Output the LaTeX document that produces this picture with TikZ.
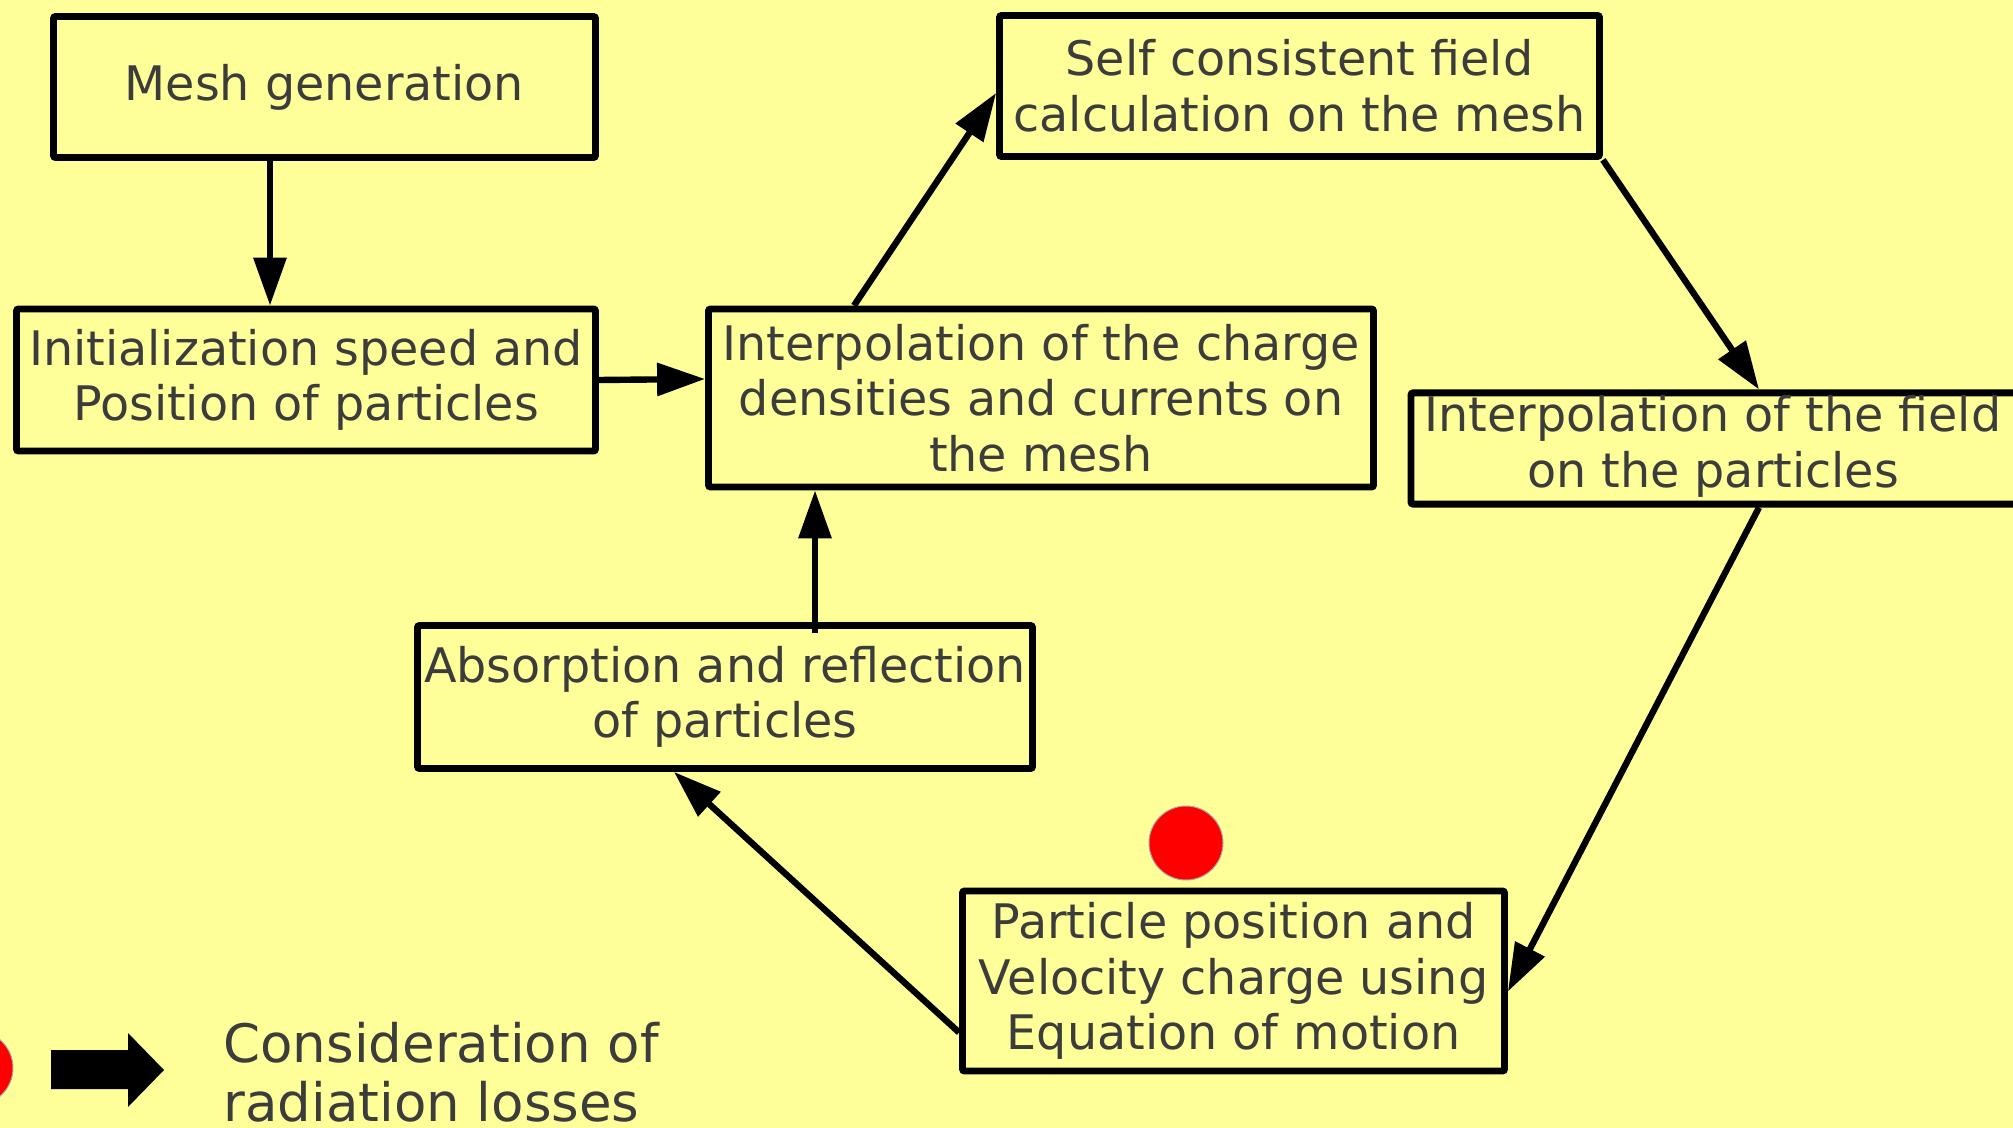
\documentclass[tikz,border=0pt]{standalone}
\usepackage{fontspec}
\setmainfont{DejaVu Sans}
\usetikzlibrary{arrows.meta,calc}
\definecolor{bg}{HTML}{FFFF99}
\definecolor{txt}{HTML}{3C3C3C}
\begin{document}
\begin{tikzpicture}[x=0.5pt,y=-0.5pt,
  box/.style={draw=black,line width=3.4pt,rounded corners=1pt,fill=bg,text=txt,align=center,
    font=\fontsize{23.8}{27.8}\selectfont,inner sep=0pt},
  arr/.style={line width=3.2pt,-{Triangle[length=24pt,width=16pt]}},
  dot/.style={circle,fill=red,draw=gray!70,line width=0.5pt,minimum size=37pt,inner sep=0pt}]
\fill[bg] (0,0) rectangle (2013,1128);
\useasboundingbox (0,0) rectangle (2013,1128);

\node[box,minimum width=271pt,minimum height=70.5pt] (m) at (324.5,87) {Mesh generation};
\node[box,minimum width=289.5pt,minimum height=71pt] (i) at (306,380) {Initialization speed and\\Position of particles};
\node[box,minimum width=332.5pt,minimum height=89pt] (c) at (1041,398) {Interpolation of the charge\\densities and currents on\\the mesh};
\node[box,minimum width=300pt,minimum height=70.5pt] (s) at (1299.5,86) {Self consistent field\\calculation on the mesh};
\node[box,minimum width=311pt,minimum height=54pt] (f) at (1722,448.5) {\begin{tabular}{@{}c@{\hspace{9pt}}}Interpolation of the field\\on the particles\end{tabular}};
\node[box,minimum width=271pt,minimum height=90pt] (p) at (1233.5,981) {Particle position and\\Velocity charge using\\Equation of motion};
\node[box,minimum width=307.5pt,minimum height=71.5pt] (r) at (725,697) {Absorption and reflection\\of particles};

\node[dot] (d1) at (1186,843) {};

\draw[arr] ([xshift=-27.25pt]m.south) -- ([xshift=-18pt]i.north);
\draw[arr] (i.east) -- ([yshift=9.5pt]c.west);
\draw[arr] ([xshift=-93.5pt]c.north) -- ([yshift=-3.5pt]s.west);
\draw[arr] (s.south east) -- ([xshift=18.5pt]f.north);
\draw[arr] ([xshift=18.5pt]f.south) -- ([yshift=-5.25pt]p.east);
\draw[arr] ([yshift=-25.75pt]p.west) -- ([xshift=-25.5pt]r.south);
\draw[arr] ([xshift=45pt,yshift=-5.5pt]r.north) -- ([xshift=-113pt]c.south);

% legend
\node[dot] (d2) at (-24,1068) {};
\fill[black] (51,1050) -- (128,1050) -- (128,1033) -- (164,1070) -- (128,1107) -- (128,1089) -- (51,1089) -- cycle;
\node[anchor=north west,align=left,text=txt,font=\fontsize{26.5}{29.5}\selectfont,inner sep=0pt] (lg) at (223,1022) {Consideration of\\radiation losses};
\end{tikzpicture}
\end{document}
